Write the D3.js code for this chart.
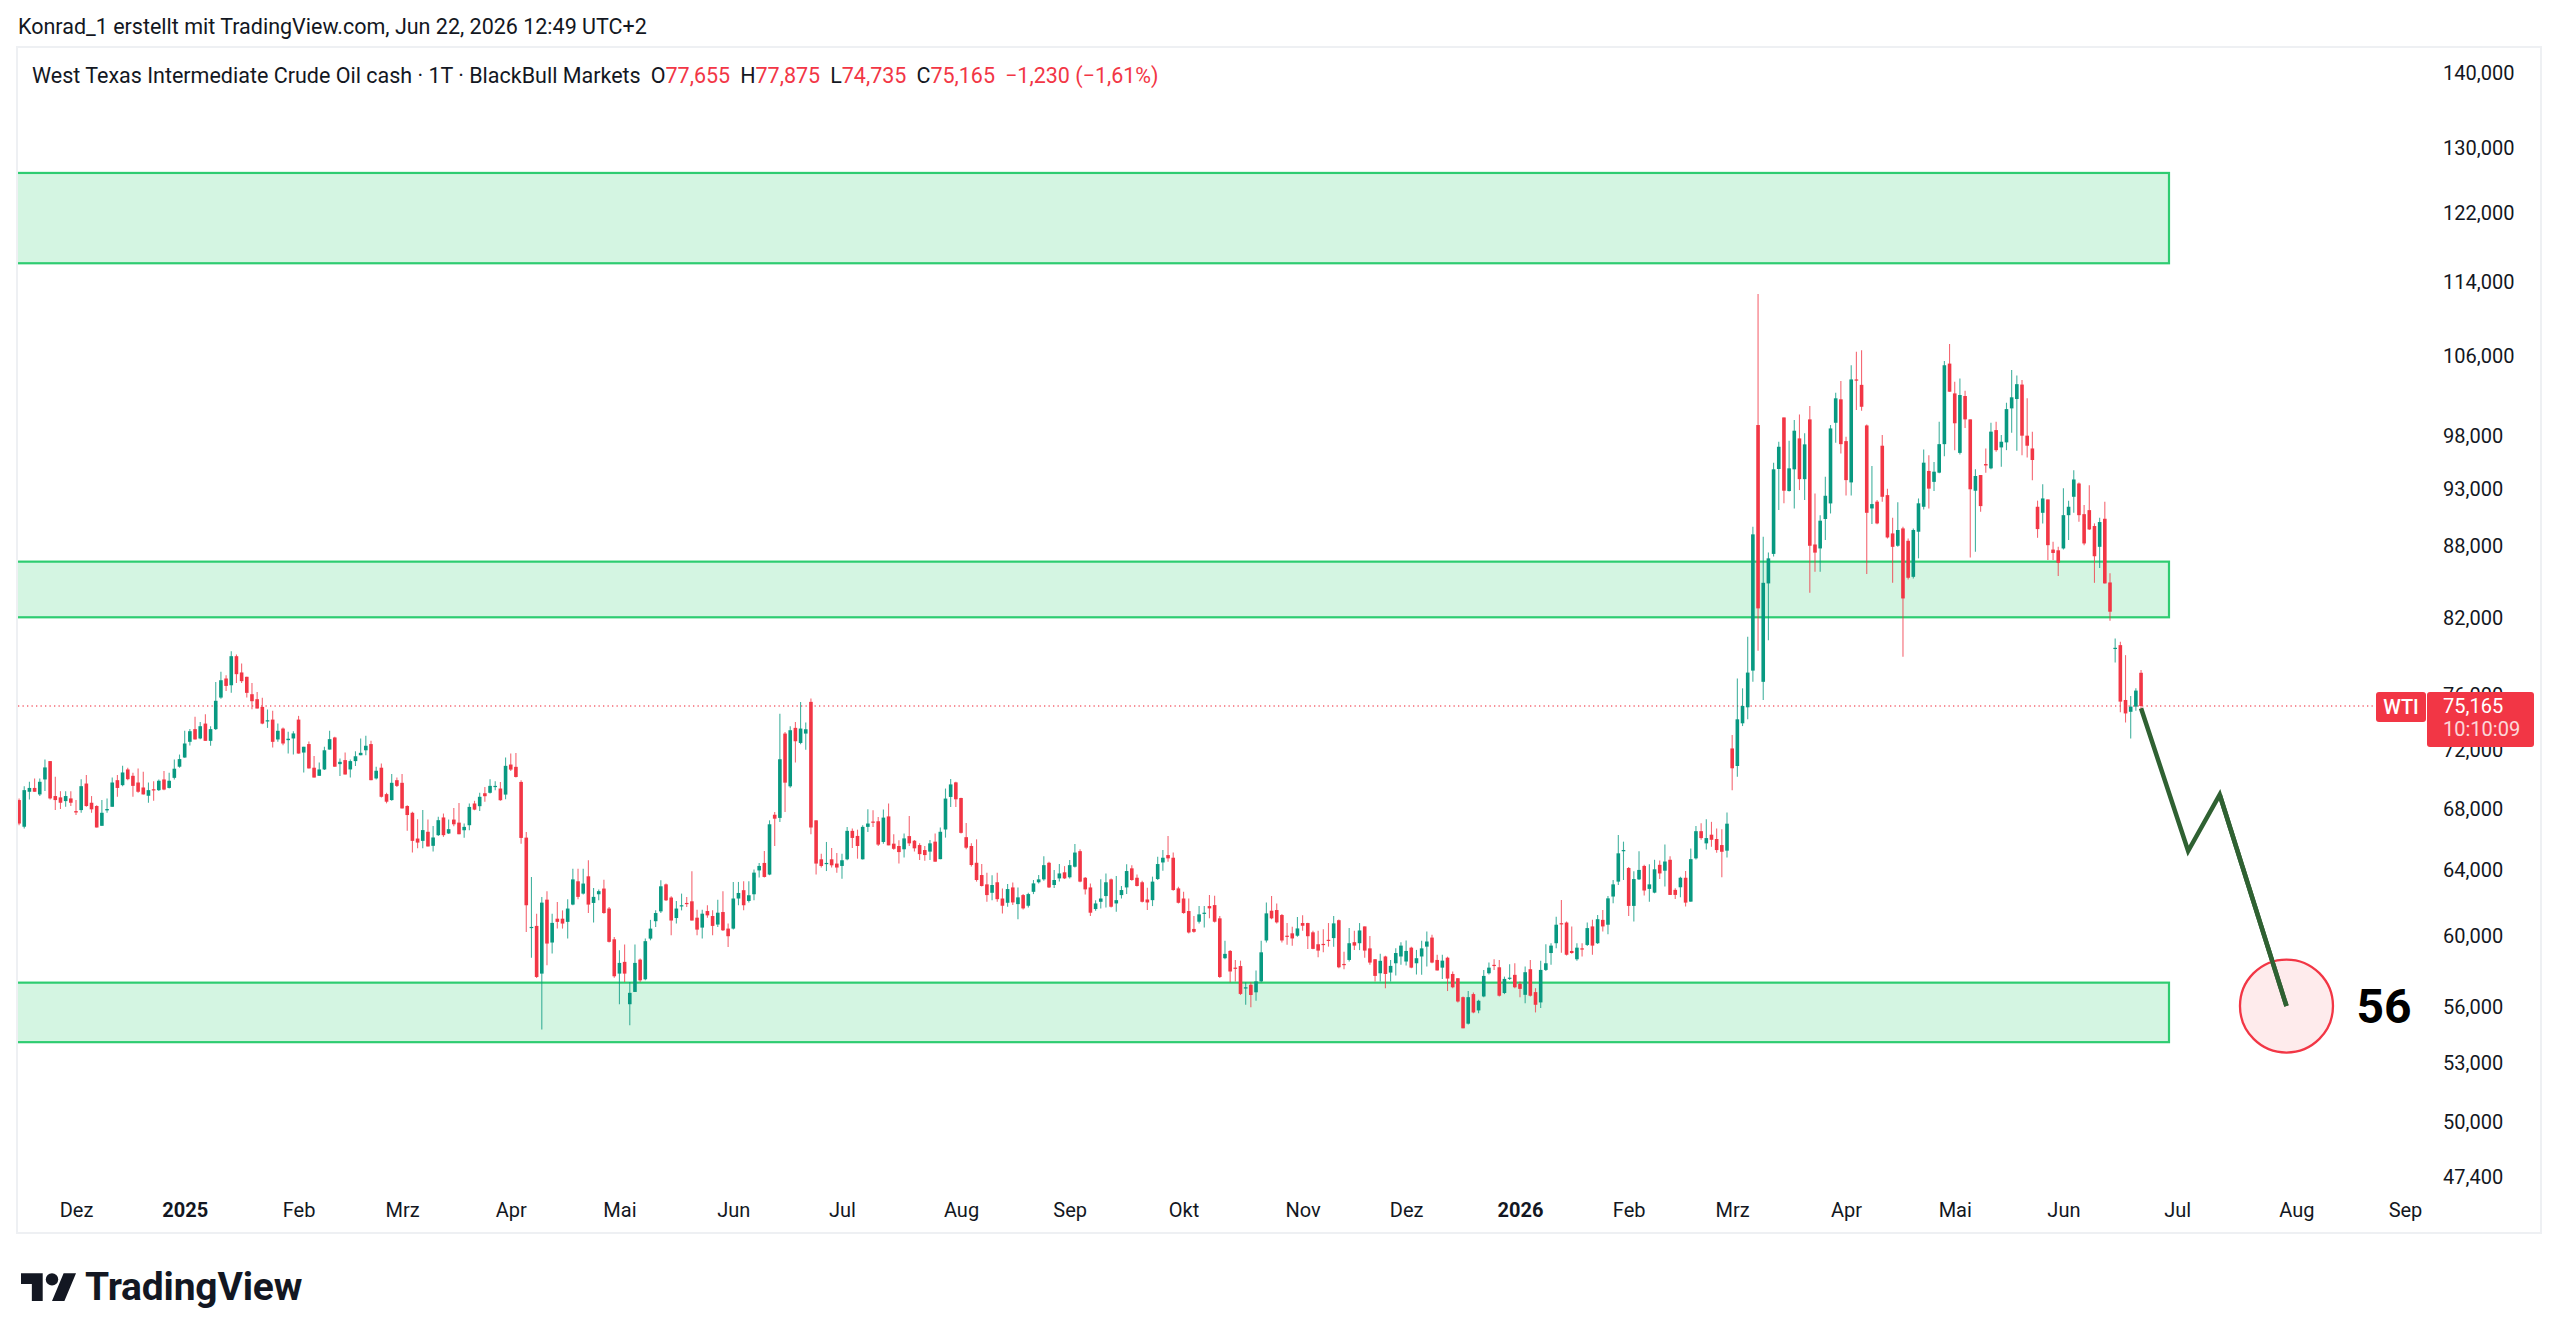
<!DOCTYPE html>
<html><head><meta charset="utf-8">
<script src="https://cdn.jsdelivr.net/npm/d3@7"></script>
<style>
html,body{margin:0;padding:0;background:#fff;}
svg{display:block;font-family:Roboto,"Noto Sans",sans-serif;}
</style></head><body>
<svg id="chart" width="2560" height="1340"></svg>
<script>
// ---------- DATA ----------
const headerText = "Konrad_1 erstellt mit TradingView.com, Jun 22, 2026 12:49 UTC+2";
const symbolTitle = "West Texas Intermediate Crude Oil cash · 1T · BlackBull Markets";
const symbolShort = "WTI";
const countdown = "10:10:09";
const prevClose = 76.395;
const firstBarIndex = -11;   // bar index of first visible candle (0 = first trading day of Dez 2024)

// [open, high, low, close]
const bars2024 = [
[68.54,68.65,66.87,66.98],[66.77,69.48,66.66,69.21],[69.10,69.78,68.58,69.36],[69.36,70.01,69.10,69.10],
[68.92,70.01,68.81,69.78],[69.94,71.32,69.16,70.77],[71.21,71.21,68.58,68.65],[68.81,70.12,67.87,68.54],
[68.72,69.14,67.94,68.36],[68.47,69.14,68.09,68.81],[68.65,69.14,68.14,68.36],[67.80,68.54,67.54,67.71],
[67.87,69.96,67.69,69.48],[69.66,70.24,68.09,68.14],[68.36,68.81,67.69,67.92],[68.14,68.20,66.72,66.72],
[66.83,68.54,66.83,67.69],[67.85,68.65,67.69,67.94],[68.09,70.07,68.09,69.73],[69.89,70.24,68.76,69.36],
[69.55,70.89,69.48,70.42],[70.63,70.75,69.89,69.96],[70.19,70.40,68.76,69.50],[69.73,70.70,69.03,69.10],
[69.39,70.47,68.92,68.92],[68.83,69.73,68.36,69.21],[69.27,69.82,68.49,69.23],[69.21,69.94,69.16,69.85],
[69.94,70.52,69.21,69.25],[69.36,70.40,69.32,69.85],[70.05,71.32,69.94,70.68],[70.82,71.67,70.75,71.35]
];
const bars2025 = [
[71.46,73.36,71.44,72.45],[72.57,73.48,72.31,73.33],[73.48,74.37,72.74,72.74],[72.81,74.00,72.76,73.69],
[73.88,74.56,72.64,72.64],[72.64,73.69,72.29,73.48],[73.48,76.96,73.41,75.55],[75.79,77.73,75.71,77.09],
[77.22,77.47,76.28,76.66],[76.71,79.31,76.14,78.93],[78.93,79.06,76.89,77.55],[77.68,78.36,76.89,77.02],
[77.35,77.35,75.79,76.14],[76.04,76.89,74.93,75.52],[75.67,76.21,74.98,74.98],[75.10,75.77,73.83,73.88],
[74.07,74.91,73.57,74.12],[74.17,74.81,72.17,72.57],[72.74,73.88,72.57,73.36],[73.52,73.60,72.33,72.45],
[72.69,73.29,71.74,72.79],[72.81,73.33,71.67,73.17],[74.17,74.44,71.74,71.74],[71.81,72.22,70.42,72.22],
[72.41,72.60,70.70,70.70],[70.75,71.56,70.07,70.07],[70.19,71.12,70.19,70.63],[70.63,72.22,70.59,71.97],
[72.02,73.36,72.02,72.76],[72.88,72.93,70.82,70.82],[71.00,71.39,70.17,71.16],[71.28,71.81,70.28,70.28],
[70.63,71.32,70.07,71.21],[71.21,71.90,70.87,71.55],[71.62,72.81,71.62,71.79],[71.97,73.00,71.62,72.29],
[72.41,72.64,69.89,69.89],[70.01,70.82,69.94,70.54],[70.75,71.05,68.72,68.76],[68.94,69.03,68.32,68.43],
[68.54,70.31,68.49,69.71],[69.89,70.07,69.43,69.50],[69.71,70.31,67.98,67.98],[68.14,68.20,66.51,67.54],
[67.69,67.76,65.10,65.85],[66.00,67.27,65.38,65.74],[65.85,67.87,65.38,66.55],[66.44,67.24,65.49,65.49],
[65.53,66.81,65.16,66.07],[66.22,67.42,66.16,67.20],[67.38,67.64,66.11,66.22],[66.33,67.24,66.29,66.61],
[67.24,68.01,66.80,66.93],[67.04,68.35,66.28,66.28],[66.54,66.98,66.06,66.76],[66.87,68.31,66.54,68.08],
[68.31,68.49,67.86,67.90],[68.13,69.03,67.81,68.76],[69.00,69.43,68.42,68.80],[69.03,69.95,68.98,69.50],
[69.45,69.81,69.21,69.50],[69.32,69.77,68.49,68.53],[68.91,71.46,68.60,70.88],[70.97,71.74,70.53,70.62],
[70.81,71.78,70.07,70.11],[69.77,69.88,65.67,66.04],[66.06,66.43,60.22,61.82],[60.48,63.56,58.71,60.52],
[60.58,61.31,57.56,57.62],[57.81,62.33,54.72,61.98],[62.16,62.68,58.29,59.54],[59.60,61.31,58.96,60.76],
[61.01,62.02,60.42,60.82],[61.01,61.51,60.42,60.72],[60.82,62.19,59.83,61.62],[61.86,64.08,61.82,63.41],
[63.29,64.08,62.19,62.33],[62.53,64.08,62.47,63.15],[63.60,64.61,61.35,61.86],[61.96,62.88,60.78,62.33],
[62.49,62.78,62.12,62.68],[62.84,63.39,61.31,61.35],[61.62,61.71,59.60,59.64],[59.79,59.93,57.58,57.66],
[57.81,59.15,56.10,58.42],[58.48,59.48,57.34,57.81],[56.10,57.34,54.95,56.73],[56.78,59.48,56.78,58.42],
[58.61,58.67,57.34,57.43],[57.49,59.83,57.43,59.68],[59.83,60.94,59.73,60.42],[60.86,61.51,60.52,61.35],
[61.45,63.35,61.35,62.98],[63.10,63.15,62.08,62.12],[62.29,62.37,60.03,60.90],[61.05,62.08,60.72,61.62],
[61.78,62.53,61.51,61.82],[61.96,62.33,61.71,61.92],[62.06,63.91,60.90,60.90],[61.07,61.55,60.03,60.36],
[60.48,61.55,59.83,61.31],[61.47,61.82,61.07,61.21],[61.17,61.51,60.03,60.58],[60.66,62.16,60.52,61.37],
[61.41,62.68,60.28,60.32],[60.42,60.72,59.34,59.97],[60.42,63.25,60.36,62.23],[62.23,63.25,61.82,62.57],
[62.74,63.29,61.51,61.82],[62.08,63.29,61.98,62.43],[62.49,64.02,62.12,63.83],[63.97,64.44,63.52,64.25],
[64.44,65.20,63.52,63.56],[63.71,67.19,63.67,66.93],[67.56,67.74,65.52,67.30],[67.35,74.60,67.08,71.34],
[73.16,73.28,67.74,69.72],[69.47,73.69,69.38,73.40],[73.57,73.99,71.12,72.61],[72.49,75.47,72.39,73.52],
[73.16,73.95,72.01,73.47],[75.47,75.72,66.28,66.72],[67.19,67.19,63.71,64.40],[64.67,65.03,64.15,64.25],
[64.40,65.78,63.93,64.44],[64.67,65.39,64.15,64.29],[64.40,65.07,63.83,64.15],[64.25,65.03,63.45,64.61],
[64.67,66.76,64.61,66.50],[66.50,66.65,65.39,66.04],[66.17,66.58,64.71,65.52],[64.67,66.87,64.65,66.76],
[66.76,67.92,66.43,66.98],[67.11,67.86,66.76,67.06],[67.13,67.41,65.52,65.61],[65.78,67.90,65.67,67.37],
[67.45,68.31,65.56,65.56],[65.67,66.28,65.28,65.34],[65.52,65.89,64.40,65.13],[65.31,66.33,64.79,66.01],
[66.16,67.47,65.52,65.69],[65.86,65.90,65.16,65.37],[65.58,65.69,64.62,65.00],[65.26,65.52,64.58,64.94],
[65.16,65.90,64.62,65.69],[65.80,66.33,64.52,64.52],[64.68,66.72,64.68,66.44],[66.59,69.32,66.06,68.64],
[68.75,69.97,68.07,69.60],[69.74,69.78,68.07,68.59],[68.68,68.70,66.33,66.37],[66.09,67.02,65.31,65.41],
[65.52,65.69,64.21,64.31],[64.45,65.95,63.27,63.37],[63.68,64.37,62.96,63.00],[63.10,63.83,62.03,62.44],
[62.58,63.66,62.13,63.06],[63.23,63.83,62.03,62.19],[62.23,62.85,61.32,61.79],[61.97,63.12,61.73,62.81],
[62.91,63.21,61.83,61.99],[61.89,62.91,60.97,62.30],[62.44,62.50,61.57,61.63],[61.79,62.58,61.69,62.50],
[62.64,63.37,62.50,63.16],[63.23,63.68,63.16,63.41],[63.41,64.87,63.33,64.30],[64.45,64.52,62.87,62.91],
[63.06,63.99,62.87,63.37],[63.47,64.37,63.27,63.78],[63.85,64.24,63.43,63.47],[63.54,64.62,63.47,64.30],
[64.20,65.65,64.16,65.10],[65.19,65.31,63.23,63.27],[63.51,63.56,62.48,62.79],[62.91,63.16,61.17,61.37],
[61.59,62.13,61.49,61.93],[62.03,63.41,61.63,62.23],[62.38,63.78,61.69,63.23],[63.41,63.47,61.69,61.73],
[61.93,63.62,61.43,62.13],[62.44,63.00,62.23,62.75],[62.91,64.35,62.50,63.93],[64.10,64.30,63.33,63.37],
[63.51,63.72,62.96,63.00],[63.23,63.33,61.99,62.03],[62.17,62.89,61.53,61.99],[62.13,63.58,61.77,63.27],
[63.43,64.83,63.37,64.37],[64.47,65.26,63.95,64.77],[64.94,66.16,64.52,64.73],[64.77,65.10,62.71,62.75],
[62.85,62.95,61.93,61.97],[62.23,62.64,61.31,61.35],[61.47,62.23,60.13,60.19],[60.40,61.17,60.17,60.23],
[60.83,61.77,60.73,61.27],[61.33,61.77,60.49,61.37],[61.77,62.44,61.03,61.63],[61.83,62.40,60.79,60.83],
[61.03,61.17,57.56,57.62],[58.69,59.70,58.63,58.94],[59.11,59.17,57.32,57.93],[58.15,58.59,57.37,58.08],
[58.24,58.55,56.61,56.67],[56.97,57.32,56.07,57.04],[57.18,57.32,55.94,56.61],[56.76,57.99,56.29,57.37],
[57.37,59.70,57.32,59.03],[59.72,61.99,59.60,61.33],[61.49,62.38,60.97,61.03],[61.53,61.93,60.73,60.79],
[61.23,61.29,59.60,59.72],[60.00,60.75,59.47,59.97],[60.14,60.53,59.41,59.84],[60.00,61.11,59.94,60.43],
[60.75,61.21,60.29,60.59],[60.75,60.77,59.23,59.97],[60.20,60.30,59.21,59.23],[59.50,60.30,58.75,59.13],
[59.52,60.38,59.03,59.48],[59.76,60.75,59.36,59.70],[59.86,61.17,59.36,60.73],[60.92,60.96,58.11,58.17],
[58.36,59.07,58.06,58.32],[58.59,60.45,58.50,59.56],[59.62,60.29,59.16,59.42],[59.56,60.75,59.16,60.31],
[60.55,60.55,58.72,59.13],[59.26,59.99,58.31,58.44],[58.63,58.65,57.36,57.68],[57.83,58.95,57.36,58.54],
[58.79,58.83,56.99,57.79],[57.87,58.59,57.36,58.25],[58.40,59.26,57.70,58.99],[58.79,59.62,58.31,59.42],
[58.50,59.72,58.27,59.11],[59.30,59.36,58.12,58.15],[58.40,59.17,57.76,58.69],[58.79,59.70,57.74,59.26],
[59.36,60.25,58.21,59.66],[59.89,60.05,58.40,58.44],[58.59,58.89,57.99,57.99],[58.15,58.89,57.51,58.55],
[58.72,58.78,56.83,57.53],[57.79,57.93,56.99,57.04],[57.55,57.55,56.20,56.25],[56.49,56.53,54.79,54.79],
[55.04,56.83,55.00,56.49],[56.66,56.75,55.61,55.65],[55.76,56.35,55.61,56.29],[56.53,58.02,56.49,57.68],
[57.83,58.44,57.76,58.15],[58.31,58.63,58.02,58.25],[58.17,58.59,56.53,56.57],[56.72,57.64,56.66,57.51],
[57.53,58.35,57.45,57.58],[57.74,58.40,56.99,57.04]
];
const bars2026 = [
[57.23,57.36,56.49,56.95],[56.62,58.21,56.16,57.89],[58.06,58.59,56.53,56.57],[56.77,56.99,55.65,56.07],
[56.20,58.55,55.89,58.02],[58.02,59.50,57.96,58.40],[58.99,59.56,58.31,59.42],[59.56,61.13,59.26,60.65],
[60.74,62.14,59.00,60.68],[60.78,60.84,58.85,58.89],[59.11,60.55,58.95,58.99],[58.63,59.56,58.54,59.30],
[59.26,59.56,58.79,59.22],[59.46,60.78,59.40,60.45],[60.55,60.94,58.89,59.42],[59.56,61.23,59.52,60.98],
[60.94,61.53,60.25,60.55],[60.65,62.39,60.09,62.24],[62.35,63.37,61.94,63.10],[63.27,66.23,63.06,65.05],
[65.20,65.80,63.37,65.26],[64.12,64.19,61.17,61.78],[61.78,63.91,60.84,63.43],[63.41,65.19,63.37,64.00],
[64.25,64.32,62.41,62.72],[62.82,64.36,62.04,63.10],[62.59,64.64,62.55,64.04],[64.32,64.60,63.43,63.78],
[63.95,65.62,62.96,64.53],[64.64,64.86,62.45,62.45],[62.76,62.86,62.20,62.45],[62.92,63.58,62.30,63.51],
[63.51,63.93,61.74,61.98],[62.04,65.36,62.04,64.68],[64.73,66.81,64.66,66.48],[66.48,67.00,65.92,66.03],
[65.69,67.27,65.30,66.03],[66.25,67.09,65.47,65.92],[65.97,66.65,65.09,65.26],[65.58,66.61,63.54,65.15],
[65.22,67.71,64.79,66.97],[72.10,73.06,69.21,70.71],[70.87,77.23,70.13,74.19],[73.90,76.48,73.70,75.17],
[75.07,80.45,74.19,77.67],[77.82,89.62,76.97,88.95],[99.02,112.61,79.35,82.72],[76.97,88.74,75.61,84.82],
[84.77,87.37,80.18,86.88],[87.26,95.43,87.03,94.81],[94.84,97.41,91.09,96.93],[99.76,99.76,91.70,92.84],
[92.81,97.51,92.78,94.90],[94.81,99.50,91.24,98.47],[97.73,100.05,92.90,93.90],[93.90,98.22,92.00,97.16],
[99.57,100.88,83.99,87.96],[88.07,92.59,85.75,87.37],[87.73,90.64,85.75,90.15],[90.30,94.12,88.45,92.38],
[91.69,99.02,90.79,98.69],[99.24,102.21,97.31,101.65],[101.55,103.38,96.29,97.18],[97.47,97.89,92.40,93.81],
[93.60,105.00,92.40,103.55],[103.55,106.40,100.48,103.45],[103.00,106.57,100.42,100.81],[98.98,99.08,85.55,90.85],
[91.24,95.11,89.86,91.63],[91.85,92.00,89.83,89.91],[97.03,98.06,91.85,92.29],[92.44,93.03,88.59,88.68],
[89.03,90.41,84.82,87.87],[87.96,91.79,87.87,89.33],[89.47,89.62,78.88,83.53],[88.39,88.59,85.09,85.24],
[85.32,89.47,85.18,89.33],[89.18,92.14,86.88,91.70],[91.39,96.68,91.15,95.43],[94.66,96.13,91.24,93.03],
[93.65,95.49,92.81,94.59],[94.50,99.35,94.44,97.18],[97.18,105.44,96.03,105.00],[105.17,107.21,102.31,102.31],
[102.14,103.31,96.61,99.19],[96.35,103.65,96.20,101.98],[101.88,102.41,98.72,99.57],[99.57,99.57,86.96,92.97],
[92.84,94.81,87.45,94.19],[94.28,94.28,90.94,91.45],[95.30,96.77,94.50,95.17],[94.90,99.24,94.81,98.38],
[98.53,99.35,96.45,96.61],[96.87,98.06,95.05,97.41],[97.35,101.21,96.61,100.58],[100.65,104.52,98.28,101.75],
[101.58,103.96,96.55,103.07],[103.03,103.48,96.13,97.99],[97.99,101.65,95.92,97.03],[96.77,98.38,93.81,95.68],
[91.39,91.94,88.65,89.41],[90.85,93.44,89.91,92.14],[92.05,92.05,86.73,88.01],[87.63,88.30,86.73,87.34],
[87.57,87.87,85.38,86.50],[87.73,93.06,87.63,90.64],[90.64,91.94,88.45,91.39],[92.29,94.72,90.85,93.87],
[93.50,93.60,90.06,90.64],[90.73,91.55,88.01,88.16],[91.09,93.35,89.33,89.38],[89.68,89.91,84.82,87.06],
[87.87,90.41,86.07,90.03],[90.32,91.85,84.77,84.77],[84.85,85.61,81.73,82.45],[79.50,80.32,78.44,79.58],
[79.79,80.06,74.71,75.49],[75.61,79.01,73.96,74.62],[74.74,75.91,72.80,75.12],[75.12,76.48,74.81,76.31],
[77.655,77.875,74.735,75.165]
];

const monthLabels   = ["Dez","2025","Feb","Mrz","Apr","Mai","Jun","Jul","Aug","Sep","Okt","Nov","Dez","2026","Feb","Mrz","Apr","Mai","Jun","Jul","Aug","Sep"];
const monthBarIndex = [0,21,43,63,84,105,127,148,171,192,214,237,257,279,300,320,342,363,384,406,429,450];
const yearLabels = ["2025","2026"];

const yTickValues = [140,130,122,114,106,98,93,88,82,76,72,68,64,60,56,53,50,47.4];

const zoneLow  = [116.05, 82.0, 54.05];
const zoneHigh = [126.8, 86.6, 57.3];
const zoneStartIndex = -20;
const zoneEndIndex = 404.4;

const forecastIndex = [399, 408.1, 414.2, 427.1];
const forecastValue = [75.0, 65.2, 68.9, 56.0];
const targetLabel = "56";

// ---------- RENDER ----------
const bars = bars2024.concat(bars2025, bars2026).map((b, k) => ({
  i: firstBarIndex + k, o: b[0], h: b[1], l: b[2], c: b[3]
}));
const last = bars[bars.length - 1];

const svg = d3.select("#chart");
const W = 2560, H = 1340;
const pane = {x0: 18, x1: 2540, y0: 48, y1: 1232};

const x = d3.scaleLinear().domain([0, 450]).range([76, 2405]);
const y = d3.scaleLog().domain([47.4, 140]).range([1176, 72]);

const loc = d3.formatLocale({decimal: ",", thousands: ".", grouping: [3], currency: ["", ""]});
const fmt = loc.format(".3f");
const fmtPct = loc.format(".2f");

const GREEN = "#089981", RED = "#f23645", TXT = "#131722";

svg.append("rect").attr("width", W).attr("height", H).attr("fill", "#fff");

// header
svg.append("text").attr("x", 18).attr("y", 26).attr("dominant-baseline", "central")
  .attr("font-size", 21.5).attr("fill", TXT).text(headerText);

// pane frame
svg.append("rect").attr("x", 17).attr("y", 47).attr("width", 2524).attr("height", 1186)
  .attr("fill", "none").attr("stroke", "#eef0f3").attr("stroke-width", 2);

svg.append("clipPath").attr("id", "paneClip").append("rect")
  .attr("x", pane.x0).attr("y", pane.y0).attr("width", 2380).attr("height", pane.y1 - pane.y0);

const plot = svg.append("g").attr("clip-path", "url(#paneClip)");

// zones
const zones = zoneLow.map((lo, k) => ({lo, hi: zoneHigh[k]}));
plot.selectAll("rect.zone").data(zones).join("rect").attr("class", "zone")
  .attr("x", x(zoneStartIndex)).attr("width", x(zoneEndIndex) - x(zoneStartIndex))
  .attr("y", d => y(d.hi)).attr("height", d => y(d.lo) - y(d.hi))
  .attr("fill", "#d4f5e2").attr("stroke", "#2ecc71").attr("stroke-width", 2.2);

// last price dotted line
plot.append("line").attr("x1", pane.x0).attr("x2", 2376)
  .attr("y1", y(last.c)).attr("y2", y(last.c))
  .attr("stroke", RED).attr("stroke-width", 1.3).attr("stroke-dasharray", "1.3,3.2").attr("opacity", 0.75);

// candles
const bw = 3.6;
const cg = plot.append("g");
cg.selectAll("line.wick").data(bars).join("line").attr("class", "wick")
  .attr("x1", d => x(d.i)).attr("x2", d => x(d.i))
  .attr("y1", d => y(d.h)).attr("y2", d => y(d.l))
  .attr("stroke", d => d.c >= d.o ? GREEN : RED).attr("stroke-width", 1.1).attr("opacity", 0.75);
cg.selectAll("rect.body").data(bars).join("rect").attr("class", "body")
  .attr("x", d => x(d.i) - bw / 2).attr("width", bw)
  .attr("y", d => y(Math.max(d.o, d.c)))
  .attr("height", d => Math.max(1.2, Math.abs(y(d.o) - y(d.c))))
  .attr("fill", d => d.c >= d.o ? GREEN : RED);

// forecast path
const fpts = forecastIndex.map((v, k) => [x(v), y(forecastValue[k])]);
plot.append("path").attr("d", d3.line()(fpts)).attr("fill", "none")
  .attr("stroke", "#2f6132").attr("stroke-width", 4.5).attr("stroke-linejoin", "miter");

// target circle
const tx = x(forecastIndex[forecastIndex.length - 1]), ty = y(forecastValue[forecastValue.length - 1]);
svg.append("circle").attr("cx", tx).attr("cy", ty).attr("r", 46.5)
  .attr("fill", "rgba(242,54,69,0.1)").attr("stroke", RED).attr("stroke-width", 2.3);
svg.append("path").attr("d", d3.line()(fpts.slice(-2))).attr("fill", "none")
  .attr("stroke", "#2f6132").attr("stroke-width", 4.5).attr("clip-path", "url(#paneClip)");
svg.append("text").attr("x", tx + 70).attr("y", ty).attr("dominant-baseline", "central")
  .attr("font-size", 48).attr("font-weight", 700).attr("fill", "#000").text(targetLabel);

// y axis
const yAxis = d3.axisRight(y).tickValues(yTickValues).tickFormat(fmt).tickSize(0).tickPadding(0);
const gy = svg.append("g").attr("transform", "translate(2443,0)").call(yAxis);
gy.select(".domain").remove();
gy.selectAll("text").attr("font-size", 20).attr("fill", TXT).attr("font-family", "Roboto")
  .attr("dy", null).attr("dominant-baseline", "central");

// x axis
const xAxis = d3.axisBottom(x).tickValues(monthBarIndex).tickFormat((d, k) => monthLabels[k]).tickSize(0).tickPadding(0);
const gx = svg.append("g").attr("transform", "translate(0,1210)").call(xAxis);
gx.select(".domain").remove();
gx.selectAll("text").attr("font-size", 20).attr("fill", TXT).attr("font-family", "Roboto")
  .attr("dy", null).attr("y", 0).attr("dominant-baseline", "central")
  .attr("font-weight", d => yearLabels.includes(monthLabels[monthBarIndex.indexOf(d)]) ? 700 : 400);

// price labels
const py = y(last.c);
svg.append("rect").attr("x", 2376).attr("y", py - 14).attr("width", 50).attr("height", 30).attr("rx", 3).attr("fill", RED);
svg.append("text").attr("x", 2401).attr("y", py + 1).attr("text-anchor", "middle").attr("dominant-baseline", "central")
  .attr("font-size", 20).attr("font-weight", 500).attr("fill", "#fff").text(symbolShort);
svg.append("rect").attr("x", 2427).attr("y", py - 14).attr("width", 107).attr("height", 55).attr("rx", 3).attr("fill", RED);
svg.append("text").attr("x", 2443).attr("y", py).attr("dominant-baseline", "central")
  .attr("font-size", 20).attr("fill", "#fff").text(fmt(last.c));
svg.append("text").attr("x", 2443).attr("y", py + 23).attr("dominant-baseline", "central")
  .attr("font-size", 20).attr("fill", "#fff").attr("opacity", 0.8).text(countdown);

// title line
const chg = last.c - prevClose, pct = chg / prevClose * 100;
const minus = s => s.replace("-", "\u2212");
const title = svg.append("text").attr("x", 32).attr("y", 75).attr("dominant-baseline", "central")
  .attr("font-size", 21.5).attr("fill", TXT);
title.append("tspan").text(symbolTitle);
[["O", last.o], ["H", last.h], ["L", last.l], ["C", last.c]].forEach(([k, v]) => {
  title.append("tspan").attr("dx", 10).text(k);
  title.append("tspan").attr("fill", RED).text(fmt(v));
});
title.append("tspan").attr("dx", 10).attr("fill", RED).text(minus(fmt(chg)) + " (" + minus(fmtPct(pct)) + "%)");

// footer logo
const logo = svg.append("g").attr("transform", "translate(21,1267) scale(1.55)").attr("fill", "#131722");
logo.append("path").attr("d", "M14 22H7V11H0V4h14v18zM28 22h-8l7.5-18h8L28 22z");
logo.append("circle").attr("cx", 20).attr("cy", 8).attr("r", 4);
svg.append("text").attr("x", 85).attr("y", 1300).attr("font-size", 39).attr("font-weight", 700)
  .attr("fill", "#131722").attr("letter-spacing", -0.2).text("TradingView");
</script>
</body></html>
